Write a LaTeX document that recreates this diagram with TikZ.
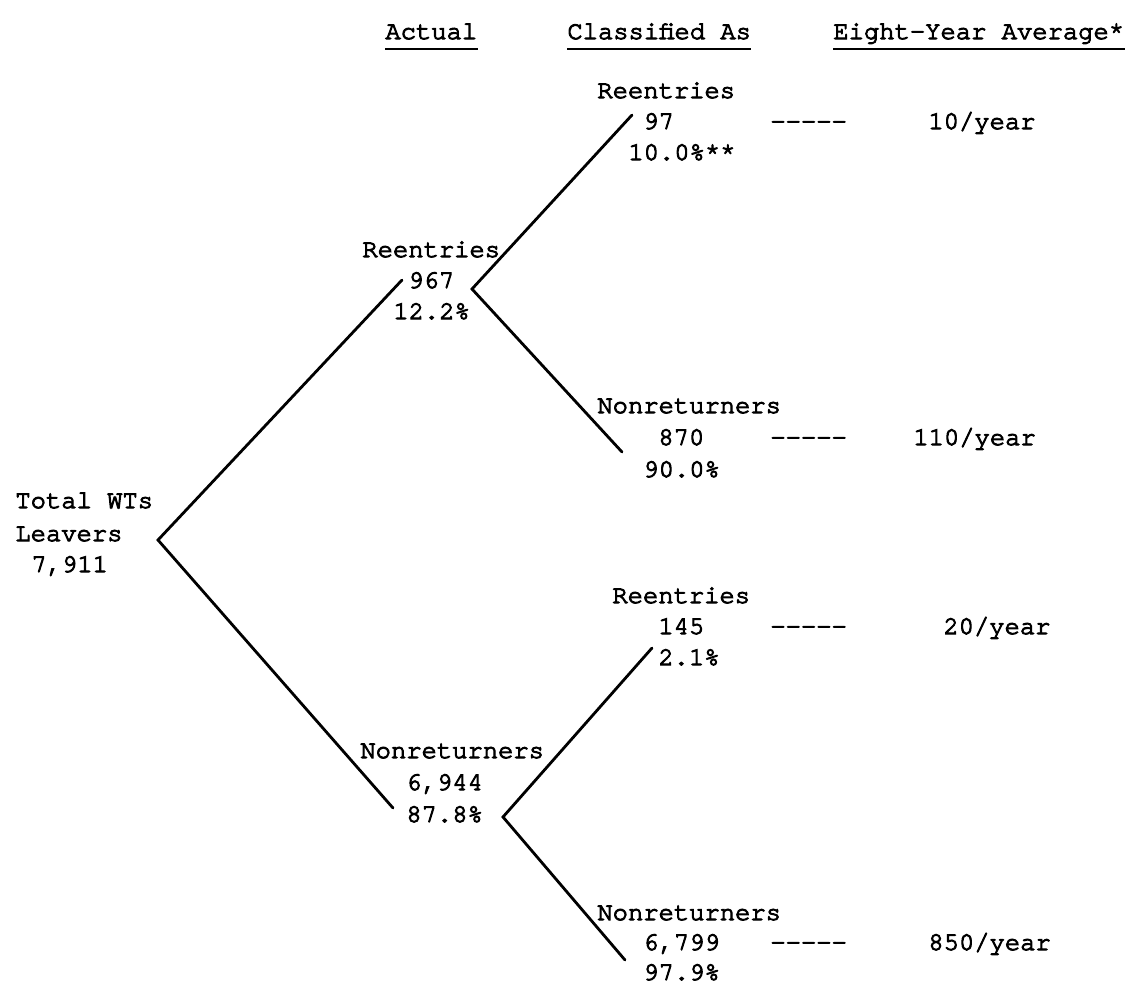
\documentclass[tikz,border=0pt]{standalone}
\usepackage{fontspec}
\newfontfamily\typewr{texgyrecursor-regular.otf}[FakeBold=4]
\tikzset{
  tw/.style={anchor=base west, inner sep=0pt, font=\typewr\fontsize{12.75}{16}\selectfont},
  branch/.style={line width=1.4pt, line cap=round, line join=miter},
}
\begin{document}
\begin{tikzpicture}[x=0.5pt, y=-0.5pt]
\useasboundingbox (0,0) rectangle (1132,987);

% column heads
\foreach \nm/\x/\txt in {hAct/385/Actual, hCls/567/Classified As, hAvg/833/Eight-Year Average*}
{
  \node[tw] (\nm) at (\x,39) {\txt};
  \draw[line width=1.1pt] ([yshift=-5pt]\nm.base west) -- ([yshift=-5pt]\nm.base east);
}

% labels of the tree
\foreach \nm/\x/\y/\txt in {
  {tot1/15/508/Total WTs}, {tot2/15/541/Leavers}, {tot3/31/572/7,911},
  re1/362/257/Reentries, re2/408/288/967, re3/393/319/12.2\%,
  nr1/360/758/Nonreturners, {nr2/406/790/6,944}, nr3/406/822/87.8\%,
  rr1/597/98/Reentries, rr2/643/129/97, rr3/628/160/10.0\%**,
  rn1/597/413/Nonreturners, rn2/658/445/870, rn3/643/477/90.0\%,
  nrr1/612/603/Reentries, nrr2/658/634/145, nrr3/658/665/2.1\%,
  nn1/597/920/Nonreturners, {nn2/643/950/6,799}, nn3/643/980/97.9\%}
  \node[tw] (\nm) at (\x,\y) {\txt};

% dashes and yearly averages
\foreach \nm/\y/\x/\avg in {rr/129/928/10, rn/445/913/110, nrr/634/943/20, nn/950/928/850}
{
  \node[tw] (dash\nm) at (770,\y) {-{}-{}-{}-{}-};
  \node[tw] (avg\nm) at (\x,\y) {\avg/year};
}

\path (158,540) coordinate (root)
      (472,289) coordinate (reV)
      (503,817) coordinate (nrV)
      (402,280) coordinate (reEnd)
      (393,808) coordinate (nrEnd)
      (632,115) coordinate (rrEnd)
      (622,452) coordinate (rnEnd)
      (652,648) coordinate (nrrEnd)
      (625,960) coordinate (nnEnd);

\draw[branch] (reEnd) -- (root) -- (nrEnd);
\draw[branch] (rrEnd) -- (reV) -- (rnEnd);
\draw[branch] (nrrEnd) -- (nrV) -- (nnEnd);
\end{tikzpicture}
\end{document}
